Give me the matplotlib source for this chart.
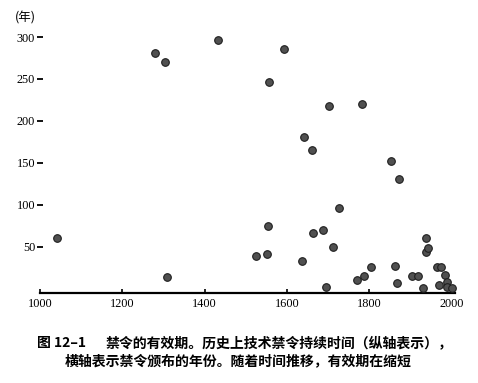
import matplotlib
matplotlib.use("Agg")
import matplotlib.pyplot as plt

# year a ban was issued, and how long it lasted (years)
years = [1042, 1279, 1304, 1309, 1433, 1526, 1551, 1555, 1556, 1592,
         1637, 1641, 1660, 1664, 1688, 1694, 1703, 1713, 1727, 1771,
         1783, 1788, 1805, 1852, 1863, 1868, 1872, 1904, 1919, 1930,
         1937, 1937, 1944, 1964, 1970, 1974, 1985, 1990, 1990, 2000]
durations = [60, 281, 270, 14, 297, 39, 41, 74, 247, 286,
             33, 181, 165, 66, 70, 2, 218, 50, 96, 10,
             220, 15, 25, 152, 27, 6, 131, 15, 15, 0,
             60, 44, 48, 25, 4, 25, 16, 8, 2, 0]

xticks = [1000, 1200, 1400, 1600, 1800, 2000]
yticks = [50, 100, 150, 200, 250, 300]

fig_no = "图 12–1"
caption1 = "禁令的有效期。历史上技术禁令持续时间（纵轴表示），"
caption2 = "横轴表示禁令颁布的年份。随着时间推移，有效期在缩短"

SERIF = "Liberation Serif"
CJK = ["Noto Sans CJK SC", "DejaVu Sans"]

fig = plt.figure(figsize=(4.78, 3.83), dpi=100)
ax = fig.add_axes([0.0837, 0.236, 0.8695, 0.689])

ax.scatter(years, durations, s=30, color="#505050", edgecolors="#1e1e1e",
           linewidths=0.8, zorder=3, clip_on=False)

ax.set_xlim(1000, 2010)
ax.set_ylim(-5, 310)
for side in ["left", "top", "right"]:
    ax.spines[side].set_visible(False)
ax.spines["bottom"].set_linewidth(1.6)
ax.spines["bottom"].set_bounds(1000, 2008)

ax.set_xticks(xticks)
ax.set_yticks(yticks)
ax.tick_params(axis="x", direction="in", length=3, width=1.2, pad=4,
               labelsize=8.8)
ax.tick_params(axis="y", direction="inout", length=5, width=1.3, pad=1,
               labelsize=8.8)
for lab in ax.get_xticklabels() + ax.get_yticklabels():
    lab.set_family(SERIF)

fig.text(0.031, 0.952, "(年)", family=CJK, fontsize=9, va="center",
         ha="left", fontweight="light")

fig.text(37 / 478, 0.104, fig_no, family=CJK, fontsize=10, fontweight="bold",
         ha="left", va="center")
fig.text(106 / 478, 0.104, caption1, family=CJK, fontsize=10,
         fontweight="bold", ha="left", va="center")
fig.text(65 / 478, 0.057, caption2, family=CJK, fontsize=10,
         fontweight="bold", ha="left", va="center")

fig.savefig("out.png", dpi=100)
